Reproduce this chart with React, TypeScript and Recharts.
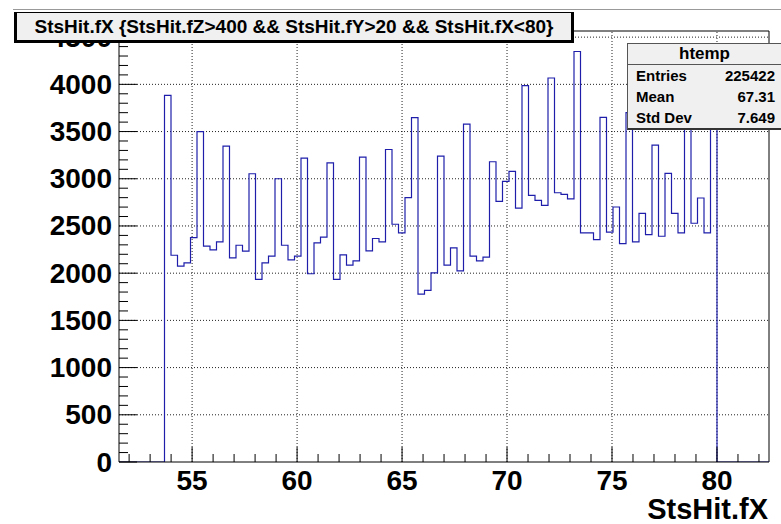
import { LineChart, Line, XAxis, YAxis, ReferenceLine } from "recharts";

// histogram definition (100 bins, auto range from ROOT's htemp)
const BIN_LOW = 51.518;
const BIN_WIDTH = 0.3096;
const Y_MAX = 4565;

// bin contents (first 7 and last 8 bins are empty)
const LEADING_EMPTY = [0, 0, 0, 0, 0, 0, 0];
const COUNTS = [
  3884, 2190, 2074, 2110, 2377, 3500, 2286, 2247, 2331, 3345,
  2163, 2296, 2233, 3053, 1934, 2110, 2180, 3000, 2296, 2141,
  2180, 3219, 1994, 2321, 2381, 3169, 1934, 2194, 2085, 2131,
  3229, 2236, 2367, 2332, 3310, 2518, 2427, 2800, 3648, 1779,
  1818, 2004, 3240, 2085, 2268, 2025, 3578, 2180, 2131, 2170,
  3180, 2761, 2972, 3078, 2690, 3986, 2824, 2771, 2719, 4067,
  2852, 2835, 2786, 4348, 2427, 2427, 2356, 3651, 2434, 2701,
  2314, 3700, 2331, 2634, 2409, 3356, 2391, 3057, 2634, 2427,
  3600, 2529, 2796, 2427, 3650,
];
const TRAILING_EMPTY = [0, 0, 0, 0, 0, 0, 0, 0];

const X_MAJOR = [55, 60, 65, 70, 75, 80];
const X_MINOR = [52, 53, 54, 56, 57, 58, 59, 61, 62, 63, 64, 66, 67, 68, 69, 71, 72, 73, 74, 76, 77, 78, 79, 81, 82];
const Y_MAJOR = [0, 500, 1000, 1500, 2000, 2500, 3000, 3500, 4000, 4500];

const STATS = [
  { label: "Entries", value: "225422" },
  { label: "Mean", value: "67.31" },
  { label: "Std Dev", value: "7.649" },
];

const TITLE = "StsHit.fX {StsHit.fZ>400 && StsHit.fY>20 && StsHit.fX<80}";
const X_TITLE = "StsHit.fX";

const FONT = "'Liberation Sans', Arial, Helvetica, sans-serif";
const LINE_COLOR = "#1e1eaa";

const W = 781;
const H = 524;
const PLOT_LEFT = 119;
const PLOT_BOTTOM = 462;

const bins = [...LEADING_EMPTY, ...COUNTS, ...TRAILING_EMPTY];
const X_MAX = BIN_LOW + bins.length * BIN_WIDTH;
const data = [
  ...bins.map((c, i) => ({ x: BIN_LOW + i * BIN_WIDTH, y: c })),
  { x: X_MAX, y: 0 },
];

const yMinor: number[] = [];
for (let v = 100; v < Y_MAX; v += 100) if (v % 500 !== 0) yMinor.push(v);

function YTick(props: any) {
  const { y, payload } = props;
  const major = Y_MAJOR.includes(payload.value);
  return (
    <g>
      <line x1={PLOT_LEFT} x2={PLOT_LEFT + (major ? 18 : 9)} y1={y} y2={y} stroke="#000" />
      {major && (
        <text
          x={112}
          y={y}
          textAnchor="end"
          dominantBaseline="central"
          fontFamily={FONT}
          fontWeight="bold"
          fontSize={28}
          fill="#000"
        >
          {payload.value}
        </text>
      )}
    </g>
  );
}

function XTick(props: any) {
  const { x, payload } = props;
  const major = X_MAJOR.includes(payload.value);
  return (
    <g>
      <line x1={x} x2={x} y1={PLOT_BOTTOM} y2={PLOT_BOTTOM - (major ? 15 : 8)} stroke="#000" />
      {major && (
        <text
          x={x}
          y={480}
          textAnchor="middle"
          dominantBaseline="central"
          fontFamily={FONT}
          fontWeight="bold"
          fontSize={28}
          fill="#000"
        >
          {payload.value}
        </text>
      )}
    </g>
  );
}

export default function App() {
  return (
    <div
      style={{
        position: "absolute",
        left: 0,
        top: 0,
        width: W,
        height: H,
        overflow: "hidden",
        background: "#fff",
        fontFamily: FONT,
      }}
    >
      <LineChart width={W} height={H} data={data} margin={{ top: 31, right: 12, left: 0, bottom: 0 }}>
        <XAxis
          type="number"
          dataKey="x"
          domain={[BIN_LOW, X_MAX]}
          allowDataOverflow
          ticks={[...X_MAJOR, ...X_MINOR]}
          interval={0}
          tick={<XTick />}
          tickLine={false}
          axisLine={{ stroke: "#000" }}
          height={62}
        />
        <YAxis
          type="number"
          domain={[0, Y_MAX]}
          allowDataOverflow
          ticks={[...Y_MAJOR, ...yMinor]}
          interval={0}
          tick={<YTick />}
          tickLine={false}
          axisLine={{ stroke: "#000" }}
          width={119}
        />
        {Y_MAJOR.filter((v) => v > 0).map((v) => (
          <ReferenceLine key={"gy" + v} y={v} stroke="#222" strokeDasharray="1 2" />
        ))}
        {X_MAJOR.map((v) => (
          <ReferenceLine key={"gx" + v} x={v} stroke="#222" strokeDasharray="1 2" />
        ))}
        <ReferenceLine x={X_MAX} stroke="#000" />
        <ReferenceLine y={Y_MAX} stroke="#000" />
        <Line
          type="stepAfter"
          dataKey="y"
          stroke={LINE_COLOR}
          strokeWidth={1.2}
          dot={false}
          activeDot={false}
          isAnimationActive={false}
        />
      </LineChart>

      {/* pad top border */}
      <div style={{ position: "absolute", left: 13, top: 9, width: W - 13, height: 0, borderTop: "1px solid #999" }} />

      {/* title box */}
      <div
        style={{
          position: "absolute",
          left: 14,
          top: 12,
          width: 554,
          height: 27,
          background: "#f0f0f0",
          borderTop: "1px solid #000",
          borderLeft: "3px solid #000",
          borderRight: "3px solid #000",
          borderBottom: "3px solid #000",
          display: "flex",
          alignItems: "center",
          justifyContent: "center",
          fontWeight: "bold",
          fontSize: 19,
          color: "#000",
          whiteSpace: "nowrap",
        }}
      >
        {TITLE}
      </div>

      {/* stats box */}
      <div
        style={{
          position: "absolute",
          left: 627,
          top: 43,
          width: 170,
          height: 84,
          background: "#f0f0f0",
          border: "1px solid #555",
          borderBottom: "2px solid #333",
          color: "#000",
          fontWeight: "bold",
        }}
      >
        <div
          style={{
            height: 20,
            lineHeight: "20px",
            borderBottom: "1px solid #555",
            fontSize: 17,
            width: 153,
            textAlign: "center",
          }}
        >
          htemp
        </div>
        {STATS.map((s) => (
          <div
            key={s.label}
            style={{
              display: "flex",
              justifyContent: "space-between",
              width: 139,
              paddingLeft: 8,
              height: 21,
              lineHeight: "21px",
              fontSize: 15,
            }}
          >
            <span>{s.label}</span>
            <span>{s.value}</span>
          </div>
        ))}
      </div>

      {/* x axis title */}
      <div
        style={{
          position: "absolute",
          right: 13,
          top: 495,
          fontWeight: "bold",
          fontSize: 29,
          lineHeight: "28px",
          color: "#000",
        }}
      >
        {X_TITLE}
      </div>
    </div>
  );
}
